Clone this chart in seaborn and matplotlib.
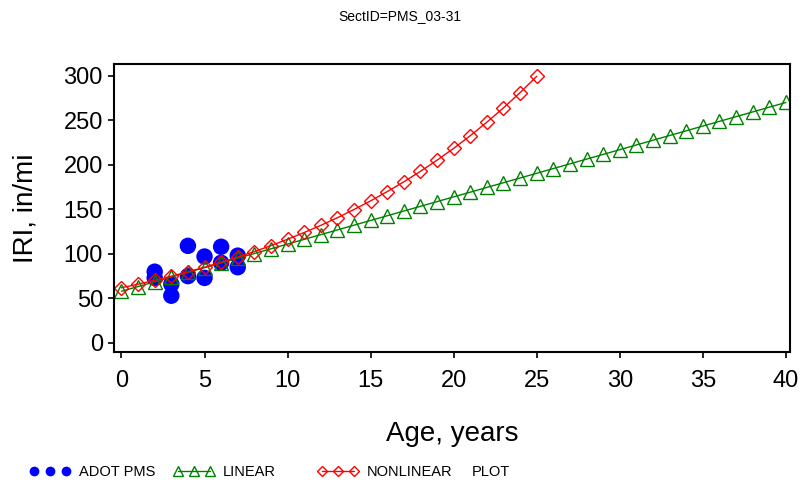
import matplotlib
matplotlib.use('Agg')
import matplotlib.pyplot as plt
import seaborn as sns
import pandas as pd
from matplotlib.lines import Line2D

# observed IRI values (ADOT PMS)
obs_age = [2, 2, 3, 3, 4, 4, 5, 5, 6, 6, 7, 7]
obs_iri = [80, 73, 66, 53, 109, 75, 97, 73, 108, 90, 98, 85]

# linear model
lin_age = list(range(0, 41))
lin_iri = [58, 63.3, 68.6, 73.9, 79.2, 84.5, 89.8, 95.1, 100.4, 105.7,
           111, 116.3, 121.6, 126.9, 132.2, 137.5, 142.8, 148.1, 153.4, 158.7,
           164, 169.3, 174.6, 179.9, 185.2, 190.5, 195.8, 201.1, 206.4, 211.7,
           217, 222.3, 227.6, 232.9, 238.2, 243.5, 248.8, 254.1, 259.4, 264.7, 270]

# nonlinear model
nl_age = list(range(0, 26))
nl_iri = [62, 66.0, 70.3, 74.9, 79.8, 85.0, 90.5, 96.4, 102.6, 109.3,
          116.4, 124.0, 132.0, 140.6, 149.8, 159.5, 169.9, 180.9, 192.7, 205.2,
          218.5, 232.7, 247.9, 264.0, 281.1, 299.4]

sns.set_style('ticks')
plt.rcParams['font.family'] = ['Liberation Sans', 'DejaVu Sans']
plt.rcParams['text.color'] = 'black'
plt.rcParams['axes.labelcolor'] = 'black'
plt.rcParams['xtick.color'] = 'black'
plt.rcParams['ytick.color'] = 'black'

obs = pd.DataFrame({'age': obs_age, 'iri': obs_iri})
lin = pd.DataFrame({'age': lin_age, 'iri': lin_iri})
nl = pd.DataFrame({'age': nl_age, 'iri': nl_iri})

fig = plt.figure(figsize=(8, 4.9), dpi=100)
ax = fig.add_axes([0.1425, 0.282, 0.845, 0.587])

sns.lineplot(data=lin, x='age', y='iri', ax=ax, color='green', lw=1,
             marker='^', markersize=9.5, markerfacecolor='none',
             markeredgecolor='green', markeredgewidth=1)
sns.lineplot(data=nl, x='age', y='iri', ax=ax, color='red', lw=1,
             marker='D', markersize=7, markerfacecolor='none',
             markeredgecolor='red', markeredgewidth=1)
sns.scatterplot(data=obs, x='age', y='iri', ax=ax, color='blue', s=140,
                edgecolor='none', zorder=1)

ax.set_xlim(-0.45, 40.25)
ax.set_ylim(-10, 313)
ax.set_xticks(range(0, 41, 5))
ax.set_yticks(range(0, 301, 50))
ax.tick_params(labelsize=17, direction='out', length=4, width=1.2)
ax.tick_params(axis='x', pad=9)
ax.tick_params(axis='y', pad=4)
for s in ax.spines.values():
    s.set_visible(True)
    s.set_linewidth(1.5)
    s.set_color('black')

ax.set_xlabel('Age, years', fontsize=20, labelpad=21)
ax.set_ylabel('IRI, in/mi', fontsize=20, labelpad=18)

fig.text(0.5, 0.968, 'SectID=PMS_03-31', ha='center', va='center',
         fontsize=10)

# legend row, each entry placed on its own
entries = [
    (Line2D([], [], color='blue', marker='o', ls='none', markersize=6),
     'ADOT PMS', 30),
    (Line2D([], [], color='green', marker='^', lw=1, markersize=6.5,
            markerfacecolor='none'), 'LINEAR', 174),
    (Line2D([], [], color='red', marker='D', lw=1, markersize=5.5,
            markerfacecolor='none'), 'NONLINEAR', 318),
]
for h, lab, xpx in entries:
    fig.legend([h], [lab], loc='center left',
               bbox_to_anchor=(xpx / 800, 0.037), frameon=False,
               numpoints=3, handlelength=2.75, handletextpad=0.6,
               fontsize=10.5, borderpad=0, borderaxespad=0)
fig.text(472 / 800, 0.037, 'PLOT', ha='left', va='center', fontsize=10.5)

fig.savefig('out.png', dpi=100)
